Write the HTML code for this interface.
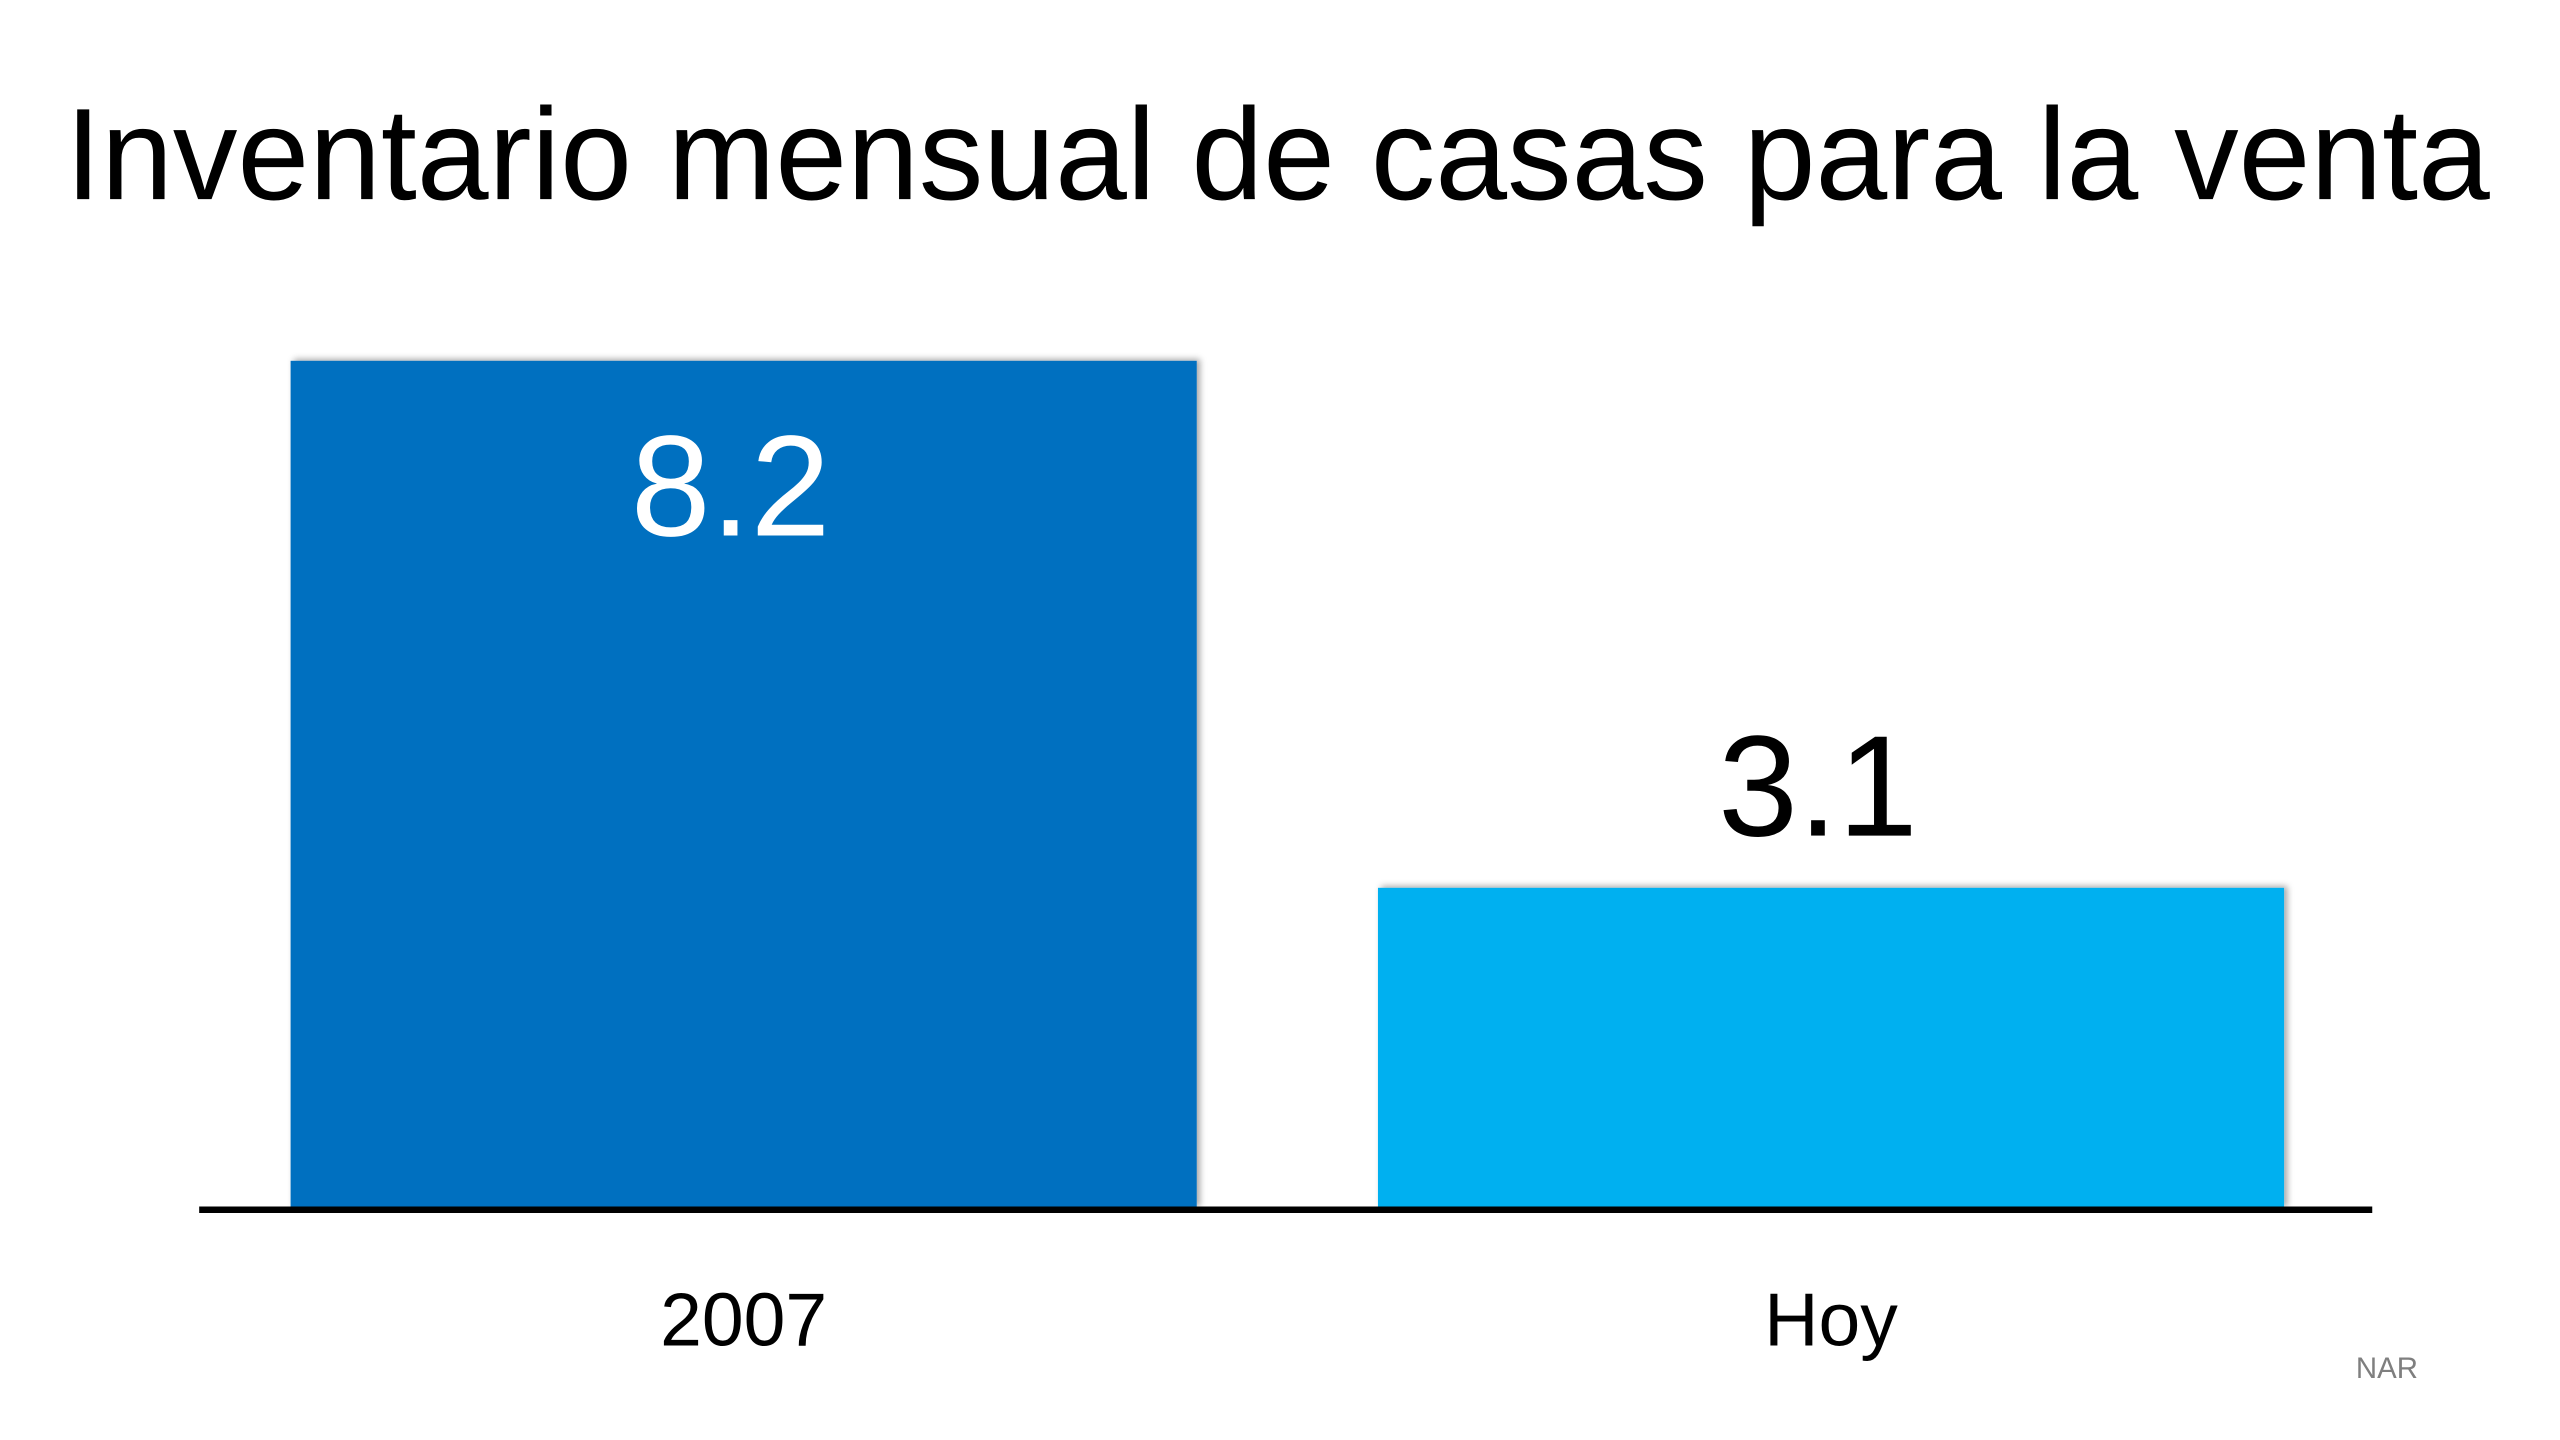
<!DOCTYPE html>
<html>
<head>
<meta charset="utf-8">
<style>
  html, body { margin: 0; padding: 0; background: #ffffff; }
  svg { display: block; }
  text { font-family: "Liberation Sans", "DejaVu Sans", sans-serif; }
</style>
</head>
<body>
<svg id="chart" width="2560" height="1440" viewBox="0 0 1568 882" xmlns="http://www.w3.org/2000/svg">
  <defs>
    <filter id="shadow" x="-5%" y="-5%" width="110%" height="110%">
      <feDropShadow dx="2" dy="-1" stdDeviation="2" flood-color="#000" flood-opacity="0.35"/>
    </filter>
  </defs>
  <rect x="0" y="0" width="1568" height="882" fill="#ffffff"/>
  <text x="40" y="122" font-size="80" fill="#000" textLength="1485" lengthAdjust="spacingAndGlyphs">Inventario mensual de casas para la venta</text>
  <g id="bars"></g>
  <line x1="122" y1="741" x2="1453" y2="741" stroke="#000" stroke-width="4"/>
  <text x="1443" y="844" font-size="18" fill="#7f7f7f">NAR</text>
</svg>
<script>
const categories = ["2007", "Hoy"];
const values = [8.2, 3.1];
const valueLabels = ["8.2", "3.1"];
const barColors = ["#0070c0", "#00b0f0"];

const baseY = 740;
const pxPerUnit = 519 / 8.2;
const barLeft = [178, 844];
const barWidth = 555;
function yScale(v) { return baseY - v * pxPerUnit; }

const NS = "http://www.w3.org/2000/svg";
const g = document.getElementById("bars");
categories.forEach((cat, i) => {
  const top = yScale(values[i]);
  const cx = barLeft[i] + barWidth / 2;
  const r = document.createElementNS(NS, "rect");
  r.setAttribute("x", barLeft[i]);
  r.setAttribute("y", top);
  r.setAttribute("width", barWidth);
  r.setAttribute("height", baseY - top);
  r.setAttribute("fill", barColors[i]);
  r.setAttribute("filter", "url(#shadow)");
  
  
  g.appendChild(r);

  const inside = (baseY - top) > 300;
  const t = document.createElementNS(NS, "text");
  t.setAttribute("x", cx - 8);
  t.setAttribute("y", inside ? top + 107 : top - 32);
  t.setAttribute("font-size", "88");
  t.setAttribute("text-anchor", "middle");
  t.setAttribute("fill", inside ? "#ffffff" : "#000000");
  t.textContent = valueLabels[i];
  
  
  g.appendChild(t);

  const c = document.createElementNS(NS, "text");
  c.setAttribute("x", cx);
  c.setAttribute("y", 824);
  c.setAttribute("font-size", "46");
  c.setAttribute("text-anchor", "middle");
  c.setAttribute("fill", "#000");
  c.textContent = cat;
  
  
  g.appendChild(c);
});
</script>
</body>
</html>
